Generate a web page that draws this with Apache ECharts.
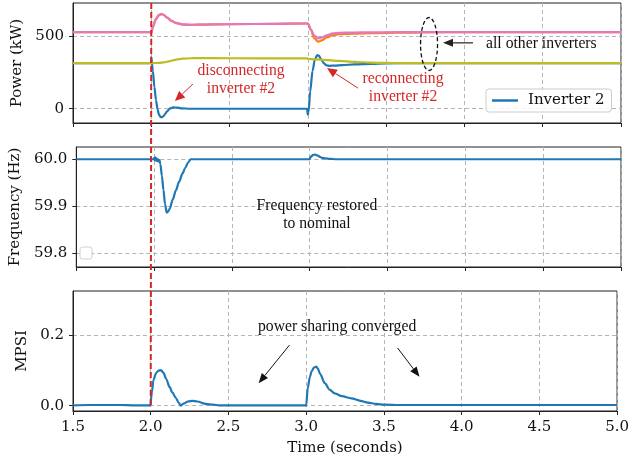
<!DOCTYPE html>
<html>
<head>
<meta charset="utf-8">
<script src="https://cdn.jsdelivr.net/npm/echarts@6/dist/echarts.min.js"></script>
<style>html,body{margin:0;padding:0;background:#fff}#c{width:632px;height:461px}</style>
</head>
<body>
<div id="c"></div>
<script>
// ---------------- DATA ----------------
const xTicks = [1.5, 2.0, 2.5, 3.0, 3.5, 4.0, 4.5, 5.0];
const powerTicks = [0, 500];
const freqTicks = [59.8, 59.9, 60.0];
const mpsiTicks = [0.0, 0.2];

// Inverter 2 power (kW)
const tInv2 = [1.5, 1.999, 2.0, 2.01, 2.02, 2.03, 2.04, 2.05, 2.06, 2.07, 2.08, 2.09, 2.10, 2.12, 2.14, 2.16, 2.19, 2.25, 2.4, 2.995, 3.0, 3.005, 3.015, 3.03, 3.045, 3.06, 3.07, 3.085, 3.10, 3.12, 3.14, 3.17, 3.22, 3.3, 3.4, 3.5, 3.7, 5.0];
const pInv2 = [314, 314, 355, 260, 150, 60, -5, -42, -57, -57, -48, -33, -18, 2, 9, 8, 3, 0, 0, 0, -40, -20, 120, 260, 340, 368, 365, 340, 315, 298, 295, 297, 300, 305, 309, 312, 314, 314];

// other inverters (upper group)
const tUpper = [1.5, 1.998, 2.0, 2.01, 2.03, 2.05, 2.065, 2.08, 2.1, 2.13, 2.16, 2.2, 2.25, 2.3, 2.5, 2.8, 2.995, 3.0, 3.02, 3.04, 3.065, 3.09, 3.12, 3.16, 3.2, 3.3, 3.4, 3.5, 3.65, 3.8, 4.0, 5.0];
const pOrange = [527, 527, 520, 565, 620, 646, 652, 645, 626, 603, 588, 579, 577, 578, 581, 584, 586, 586, 540, 485, 461, 470, 490, 507, 512, 516, 519, 522, 524, 526, 527, 527];
const pPink   = [527, 527, 520, 560, 615, 643, 650, 645, 628, 605, 590, 580, 577, 578, 581, 584, 586, 586, 545, 505, 484, 490, 505, 518, 522, 524, 525, 526, 527, 527, 527, 527];

// other inverters (lower group)
const tOlive = [1.5, 2.0, 2.05, 2.08, 2.12, 2.16, 2.2, 2.25, 2.3, 2.5, 2.995, 3.0, 3.05, 3.1, 3.2, 3.3, 3.4, 3.5, 3.6, 5.0];
const pOlive = [314, 314, 315, 319, 328, 338, 344, 347, 348, 347, 346, 343, 340, 336, 329, 322, 317, 315, 314, 314];

// Frequency (Hz)
const tFreq = [1.5, 1.999, 2.0, 2.004, 2.008, 2.012, 2.016, 2.02, 2.025, 2.03, 2.035, 2.04, 2.05, 2.06, 2.07, 2.081, 2.09, 2.1, 2.12, 2.14, 2.16, 2.183, 2.2, 2.22, 2.235, 2.25, 2.998, 3.0, 3.01, 3.02, 3.035, 3.05, 3.065, 3.08, 3.1, 3.13, 3.17, 3.2, 5.0];
const fInv = [60.0, 60.0, 60.003, 59.998, 60.004, 59.997, 60.002, 59.996, 60.0, 59.995, 59.998, 59.99, 59.965, 59.935, 59.905, 59.887, 59.889, 59.895, 59.915, 59.934, 59.952, 59.97, 59.982, 59.994, 60.0, 60.0, 60.0, 60.002, 60.006, 60.009, 60.01, 60.008, 60.005, 60.003, 60.002, 60.001, 60.0, 60.0, 60.0];

// MPSI
const tMpsi = [1.5, 1.6, 1.7, 1.8, 1.9, 1.999, 2.0, 2.008, 2.017, 2.035, 2.05, 2.066, 2.08, 2.1, 2.12, 2.14, 2.162, 2.18, 2.194, 2.21, 2.24, 2.268, 2.3, 2.354, 2.4, 2.44, 2.5, 2.996, 3.0, 3.01, 3.024, 3.035, 3.05, 3.064, 3.075, 3.09, 3.12, 3.15, 3.184, 3.23, 3.29, 3.35, 3.396, 3.45, 3.503, 3.6, 3.8, 4.0, 5.0];
const mpsi = [0.001, 0.002, 0.002, 0.002, 0.001, 0.001, 0.0, 0.04, 0.073, 0.093, 0.1, 0.101, 0.095, 0.076, 0.054, 0.037, 0.022, 0.008, 0.0, 0.006, 0.012, 0.014, 0.012, 0.005, 0.003, 0.001, 0.001, 0.001, 0.0, 0.05, 0.082, 0.098, 0.108, 0.111, 0.106, 0.09, 0.064, 0.046, 0.035, 0.027, 0.021, 0.014, 0.009, 0.005, 0.003, 0.002, 0.002, 0.002, 0.002];

const eventTime = 2.0;

// ---------------- CHART ----------------
(function () {
const pair = (t, v) => t.map((x, i) => [x, v[i]]);
const serif = 'DejaVu Serif';
const times = '"Liberation Serif", "Times New Roman", serif';
const axisCol = '#222';
const FS = 15;
const grids = [
  {left: 73, right: 11, top: 3, height: 120},
  {left: 73, right: 11, top: 147, height: 120},
  {left: 73, right: 11, top: 291, height: 120}
];
const gridOpts = grids.map(gr => Object.assign({show: true, borderColor: axisCol, borderWidth: 1, backgroundColor: 'transparent'}, gr));

function xAxis(i) {
  return {
    gridIndex: i, type: 'value', min: 1.5, max: 5.0, interval: 0.5,
    name: i === 2 ? 'Time (seconds)' : '', nameLocation: 'middle', nameGap: 30,
    nameTextStyle: {fontFamily: serif, fontSize: FS, color: '#111'},
    axisLine: {show: true, onZero: false, lineStyle: {color: axisCol, width: 1}},
    axisTick: {show: true, length: 4, lineStyle: {color: axisCol}},
    axisLabel: {show: i === 2, fontFamily: serif, fontSize: FS, color: '#111', margin: 9, formatter: v => v.toFixed(1)},
    splitLine: {show: true, lineStyle: {type: [4, 3], color: '#b5b5b5', width: 1}}
  };
}
function yAxis(i, name, min, max, ticks, fmt, gap) {
  return {
    gridIndex: i, type: 'value', min: min, max: max,
    name: name, nameLocation: 'middle', nameGap: gap,
    nameTextStyle: {fontFamily: serif, fontSize: FS, color: '#111'},
    axisLine: {show: true, onZero: false, lineStyle: {color: axisCol, width: 1}},
    axisTick: {show: true, length: 4, customValues: ticks, lineStyle: {color: axisCol}},
    axisLabel: {show: true, customValues: ticks, fontFamily: serif, fontSize: FS, color: '#111', margin: 9, formatter: fmt},
    splitLine: {show: true, lineStyle: {type: [4, 3], color: '#b5b5b5', width: 1}}
  };
}
const lineSeries = (name, data, color, xi, w, z) => ({
  name: name, type: 'line', xAxisIndex: xi, yAxisIndex: xi, data: data,
  showSymbol: false, symbol: 'none', smooth: 0.3, smoothMonotone: 'x',
  lineStyle: {color: color, width: w}, itemStyle: {color: color}, z: z, animation: false
});

const chart = echarts.init(document.getElementById('c'), null, {renderer: 'canvas'});
chart.setOption({
  animation: false,
  backgroundColor: '#fff',
  grid: gridOpts,
  xAxis: [xAxis(0), xAxis(1), xAxis(2)],
  yAxis: [
    yAxis(0, 'Power (kW)', -98, 727, powerTicks, v => String(Math.round(v)), 47),
    yAxis(1, 'Frequency (Hz)', 59.7716, 60.026, freqTicks, v => v.toFixed(1), 51),
    yAxis(2, 'MPSI', -0.015, 0.326, mpsiTicks, v => v.toFixed(1), 40)
  ],
  legend: {
    data: ['Inverter 2'], left: 486, top: 89, icon: 'rect', itemWidth: 26, itemHeight: 2.5,
    textStyle: {fontFamily: serif, fontSize: FS, color: '#111', padding: [0, 0, 0, 5]},
    backgroundColor: 'rgba(255,255,255,0.85)', borderColor: '#cccccc', borderWidth: 1, borderRadius: 3,
    padding: [4, 7, 4, 6]
  },
  series: [
    lineSeries('Inverter 2', pair(tInv2, pInv2), '#1f77b4', 0, 2.2, 2),
    lineSeries('Inverter 1', pair(tUpper, pOrange), '#ff7f0e', 0, 2.2, 3),
    lineSeries('Inverter 6', pair(tUpper, pPink), '#e377c2', 0, 2.2, 4),
    lineSeries('Inverter 8', pair(tOlive, pOlive), '#bcbd22', 0, 2.2, 5),
    lineSeries('Frequency', pair(tFreq, fInv), '#1f77b4', 1, 2.2, 2),
    lineSeries('MPSI', pair(tMpsi, mpsi), '#1f77b4', 2, 2.2, 2)
  ]
});

// ---------------- ANNOTATIONS ----------------
const px = (gi, x, y) => chart.convertToPixel({gridIndex: gi}, [x, y]);
function arrow(p1, p2, color, lw, hl, hw) {
  const dx = p2[0] - p1[0], dy = p2[1] - p1[1];
  const L = Math.hypot(dx, dy), ux = dx / L, uy = dy / L;
  const bx = p2[0] - ux * hl, by = p2[1] - uy * hl;
  return [
    {type: 'line', z: 50, shape: {x1: p1[0], y1: p1[1], x2: bx, y2: by}, style: {stroke: color, lineWidth: lw}},
    {type: 'polygon', z: 50, shape: {points: [[p2[0], p2[1]], [bx - uy * hw / 2, by + ux * hw / 2], [bx + uy * hw / 2, by - ux * hw / 2]]}, style: {fill: color}}
  ];
}
const AFS = 15.7;
function text(p, s, color, align) {
  return {type: 'text', z: 50, x: p[0], y: p[1], style: {text: s, fill: color, font: AFS + 'px ' + times, align: align || 'center', verticalAlign: 'middle', lineHeight: 18}};
}
const red = '#d62728';
const gfx = [];
const pTop = px(0, eventTime, 727), pBot = px(2, eventTime, 0);
gfx.push({type: 'line', z: 60, shape: {x1: pTop[0], y1: pTop[1], x2: pBot[0], y2: pBot[1]}, style: {stroke: red, lineWidth: 2, lineDash: [6, 3]}});
gfx.push(text(px(0, 2.573, 197), 'disconnecting\ninverter #2', red));
gfx.push(...arrow(px(0, 2.266, 170), px(0, 2.151, 53), red, 1, 10, 9));
gfx.push(text(px(0, 3.608, 142), 'reconnecting\ninverter #2', red));
gfx.push(...arrow(px(0, 3.32, 142), px(0, 3.122, 280), red, 1, 10, 9));
const ec = px(0, 3.774, 445);
gfx.push({type: 'ellipse', z: 50, shape: {cx: ec[0], cy: ec[1], rx: 8.5, ry: 26.5}, style: {fill: 'none', stroke: '#111', lineWidth: 1.3, lineDash: [4, 2.5]}});
gfx.push(...arrow(px(0, 4.055, 453), px(0, 3.863, 453), '#222', 1.2, 10, 8));
gfx.push(text(px(0, 4.138, 449), 'all other inverters', '#111', 'left'));
gfx.push(text(px(1, 3.046, 59.883), 'Frequency restored\nto nominal', '#111'));
const lb = [grids[1].left + 7, grids[1].top + grids[1].height - 20];
gfx.push({type: 'rect', z: 50, shape: {x: lb[0], y: lb[1], width: 12, height: 12, r: 2.5}, style: {fill: '#fff', stroke: '#d0d0d0', lineWidth: 1}});
gfx.push(text(px(2, 3.199, 0.2236), 'power sharing converged', '#111'));
gfx.push(...arrow(px(2, 2.892, 0.172), px(2, 2.694, 0.064), '#111', 1, 10, 8));
gfx.push(...arrow(px(2, 3.588, 0.164), px(2, 3.729, 0.082), '#111', 1, 10, 8));
chart.setOption({graphic: gfx});
})();
</script>
</body>
</html>
